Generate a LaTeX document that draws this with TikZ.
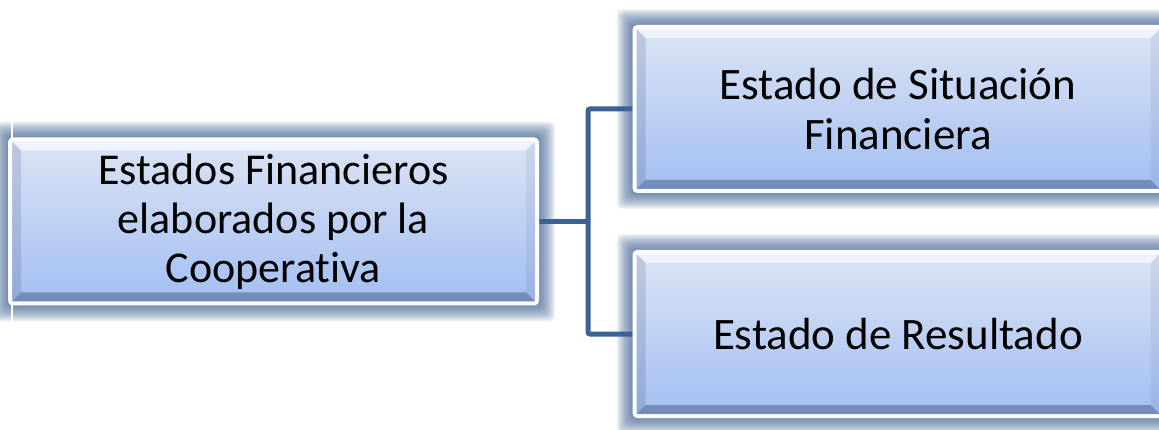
\documentclass[tikz,border=0pt]{standalone}
\usepackage{fontspec}
\setmainfont{Carlito}[Ligatures={NoCommon}]
\usetikzlibrary{backgrounds}
\definecolor{glowc}{HTML}{3F6294}
\definecolor{connc}{HTML}{3A6294}
\definecolor{topc}{HTML}{DCE4F5}
\definecolor{botc}{HTML}{A2BEF1}
\definecolor{bevd}{HTML}{2E4068}
\tikzset{
  box/.style={draw=white, line width=4pt, rounded corners=3pt,
    top color=topc, bottom color=botc,
    minimum width=527pt, minimum height=164pt, inner sep=0pt,
    align=center, text=black},
  conline/.style={draw=connc, line width=5pt, rounded corners=2pt},
  glowlayer/.style={fill=glowc, opacity=0.065, rounded corners=5pt},
}
\newcommand{\glowaround}[1]{%
  \foreach \i in {1,...,16}{%
    \fill[glowlayer] ([shift={(-\i*1pt,\i*1pt)}]#1.north west) rectangle ([shift={(\i*1pt,-\i*1pt)}]#1.south east);
  }}
\newcommand{\bevelbox}[1]{%
  \path (#1.north west) ++(4pt,-4pt) coordinate (#1a)
        (#1.north east) ++(-4pt,-4pt) coordinate (#1b)
        (#1.south east) ++(-4pt,4pt) coordinate (#1c)
        (#1.south west) ++(4pt,4pt) coordinate (#1d)
        (#1a) ++(9pt,-9pt) coordinate (#1A)
        (#1b) ++(-9pt,-9pt) coordinate (#1B)
        (#1c) ++(-9pt,9pt) coordinate (#1C)
        (#1d) ++(9pt,9pt) coordinate (#1D);
  \fill[white, opacity=0.6] (#1a) -- (#1b) -- (#1B) -- (#1A) -- cycle;
  \fill[bevd, opacity=0.16] (#1a) -- (#1A) -- (#1D) -- (#1d) -- cycle;
  \fill[bevd, opacity=0.08] (#1b) -- (#1c) -- (#1C) -- (#1B) -- cycle;
  \fill[bevd, opacity=0.4] (#1d) -- (#1D) -- (#1C) -- (#1c) -- cycle;
}
\begin{document}
\begin{tikzpicture}[x=1pt, y=-1pt]
  \useasboundingbox (0,0) rectangle (1159,430);
  \clip (0,0) rectangle (1159,430);

  \node[box, font=\fontsize{44}{49}\selectfont] (L) at (273.5,221.5)
    {Estados Financieros\\elaborados por la\\Cooperativa};
  \node[box, font=\fontsize{45}{50}\selectfont] (T) at (898,109)
    {Estado de Situación\\Financiera};
  \node[box, font=\fontsize{45}{50}\selectfont] (B) at (898,334)
    {Estado de Resultado};

  \bevelbox{L}
  \bevelbox{T}
  \bevelbox{B}

  \coordinate (J) at (588,221.5);
  \coordinate (artA) at (12,108);
  \coordinate (artB) at (12,336);

  \begin{pgfonlayer}{background}
    \fill[white] (0,0) rectangle (1159,430);
    \draw[conline] (L.east) -- (J);
    \draw[conline] (T.west) -| (J) |- (B.west);
    \glowaround{L}
    \glowaround{T}
    \glowaround{B}
    \draw[white, line width=1.2pt] (artA) -- (artB);
  \end{pgfonlayer}
\end{tikzpicture}
\end{document}
